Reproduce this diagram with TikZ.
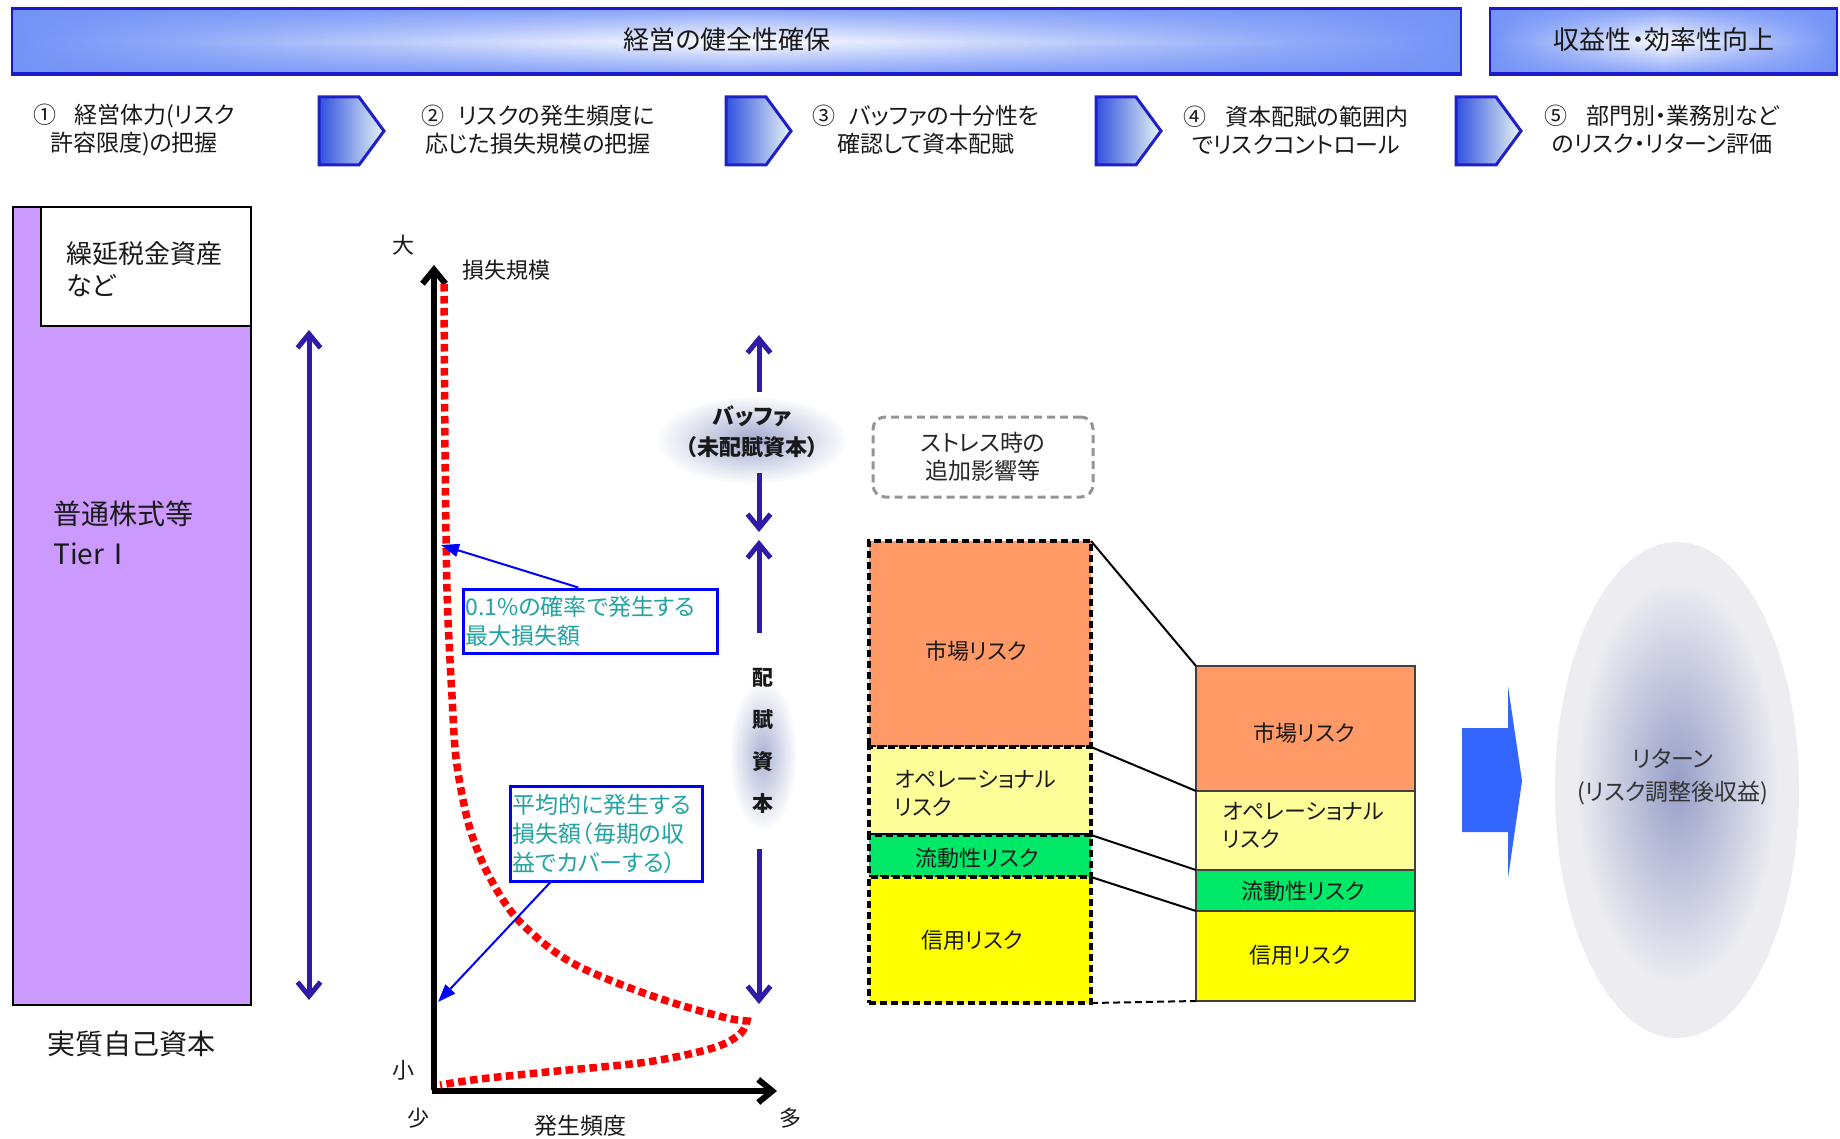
\documentclass[tikz,border=0pt]{standalone}
\usepackage{fontspec}
\setmainfont{Noto Sans CJK JP}[RawFeature={+palt}]
\usetikzlibrary{arrows.meta,fadings}
\definecolor{hdrblue}{HTML}{7393F7}
\definecolor{hdrline}{HTML}{1A1ACC}
\definecolor{chevdark}{HTML}{3050E0}
\definecolor{chevlight}{HTML}{E8F6F4}
\definecolor{chevline}{HTML}{2020C8}
\definecolor{purp}{HTML}{CC99FF}
\definecolor{darrow}{HTML}{2E1CA8}
\definecolor{tealtext}{HTML}{22A3A3}
\definecolor{annblue}{HTML}{0000FF}
\definecolor{mktorange}{HTML}{FF9966}
\definecolor{opyellow}{HTML}{FFFF99}
\definecolor{liqgreen}{HTML}{00E868}
\definecolor{credyellow}{HTML}{FFFF00}
\definecolor{bigarrow}{HTML}{3366FF}
\definecolor{glowc}{HTML}{7E88BC}
\definecolor{retout}{HTML}{ECECF1}
\definecolor{stressgray}{HTML}{959595}
\definecolor{curvered}{HTML}{FF0000}
\tikzfading[name=vmid, top color=transparent!0, bottom color=transparent!0, middle color=transparent!100]
\tikzfading[name=glowfade, inner color=transparent!10, outer color=transparent!100]
\newcommand\setfs[2]{\fontsize{#1}{#2}\selectfont}
\begin{document}
\begin{tikzpicture}[x=0.5pt,y=-0.5pt,
  txt/.style={inner sep=0pt, text=black!90},
  steptext/.style={txt, align=center, font=\setfs{11.5pt}{14pt}},
  hdrtext/.style={txt, font=\setfs{13pt}{15pt}},
  chev/.style={left color=chevdark, right color=chevlight, draw=chevline, line width=1.5pt, line join=miter},
  dblarrow/.style={draw=darrow, line width=2.5pt, {Straight Barb[length=7pt,width=11.5pt]}-{Straight Barb[length=7pt,width=11.5pt]}},
  sglarrow/.style={draw=darrow, line width=2.5pt, -{Straight Barb[length=7pt,width=11.5pt]}},
  axisline/.style={draw=black, line width=3pt, -{Straight Barb[length=7pt,width=11.5pt]}},
  riskcurve/.style={draw=curvered, line width=3.75pt, dash pattern=on 3.75pt off 2.25pt},
  annbox/.style={draw=annblue, line width=1.5pt, text=tealtext, align=left, inner xsep=1pt, inner ysep=0pt, font=\setfs{11.5pt}{14.5pt}},
  annarrow/.style={draw=annblue, line width=1pt, -{Triangle[length=9pt,width=6.5pt]}},
  stackl/.style={draw=black, line width=1.75pt, dash pattern=on 3.5pt off 2pt, minimum width=111pt, inner sep=0pt, outer sep=0pt, anchor=north west},
  stackr/.style={draw=black!75, line width=0.75pt, minimum width=109.5pt, inner sep=0pt, outer sep=0pt, anchor=north west},
  risktext/.style={txt, font=\setfs{11pt}{14pt}, align=left},
  conn/.style={draw=black, line width=1pt},
  axlabel/.style={txt, font=\setfs{11pt}{13pt}},
  glow/.style={fill=glowc, path fading=glowfade},
]
\useasboundingbox (0,0) rectangle (1840,1139);
\fill[white] (0,0) rectangle (1840,1139);

% ---------- header bars ----------
\path[left color=hdrblue, right color=hdrblue, middle color=white] (12,8) rectangle (1461,75);
\fill[hdrblue, path fading=vmid, fill opacity=0.85] (12,8) rectangle (1461,75);
\draw[hdrline, line width=0.75pt] (12,8) rectangle (1461,75);
\draw[hdrline, line width=1.5pt] (12,9) -- (1461,9) (12,74) -- (1461,74);
\node[hdrtext] (h1) at (727,40) {経営の健全性確保};

\path[left color=hdrblue, right color=hdrblue, middle color=white] (1490,8) rectangle (1837,75);
\fill[hdrblue, path fading=vmid, fill opacity=0.85] (1490,8) rectangle (1837,75);
\draw[hdrline, line width=0.75pt] (1490,8) rectangle (1837,75);
\draw[hdrline, line width=1.5pt] (1490,9) -- (1837,9) (1490,74) -- (1837,74);
\node[hdrtext] (h2) at (1664,40) {収益性・効率性向上};

% ---------- steps ----------
\path[chev] (319,97) -- (359,97) -- (384,131) -- (359,165) -- (319,165) -- cycle;
\path[chev] (726,97) -- (766,97) -- (791,131) -- (766,165) -- (726,165) -- cycle;
\path[chev] (1096,97) -- (1136,97) -- (1161,131) -- (1136,165) -- (1096,165) -- cycle;
\path[chev] (1456,97) -- (1496,97) -- (1521,131) -- (1496,165) -- (1456,165) -- cycle;

\node[steptext] (s1) at (134,130) {①\hspace{0.8em}経営体力(リスク\\許容限度)の把握};
\node[steptext] (s2) at (538,130) {②\hspace{0.6em}リスクの発生頻度に\\応じた損失規模の把握};
\node[steptext] (s3) at (926,130) {③\hspace{0.6em}バッファの十分性を\\確認して資本配賦};
\node[steptext] (s4) at (1296,130) {④\hspace{0.8em}資本配賦の範囲内\\でリスクコントロール};
\node[steptext] (s5) at (1662,130) {⑤\hspace{0.8em}部門別・業務別など\\のリスク・リターン評価};

% ---------- capital block ----------
\draw[fill=purp, line width=1.25pt] (13,207) rectangle (251,1005);
\draw[fill=white, line width=1.25pt] (41,207) rectangle (251,326);
\node[txt, anchor=west, align=left, font=\setfs{13pt}{16pt}] (dta) at (66,269) {繰延税金資産\\など};
\node[txt, anchor=west, align=left, font=\setfs{14pt}{20pt}] (tier) at (53,533) {普通株式等\\TierⅠ};
\node[txt, font=\setfs{14pt}{16pt}] (cap) at (131,1044) {実質自己資本};

\coordinate (la1) at (309,330);
\coordinate (la2) at (309,1000);
\draw[dblarrow] (la1) -- (la2);

% ---------- loss distribution graph ----------
\coordinate (org) at (434,1090);
\coordinate (ytop) at (434,265);
\coordinate (xorg) at (432,1091);
\coordinate (xend) at (777,1091);
\draw[axisline] (org) -- (ytop);
\draw[axisline] (xorg) -- (xend);

\draw[riskcurve] plot[smooth, tension=0.55] coordinates {(444,284) (445,450) (447,590) (450,660) (452,696) (455,748) (460,784) (470,829) (487,872) (513,914) (547,946) (580,967) (630,988) (680,1005) (727,1018) (747,1021)}
  -- plot[smooth, tension=0.55] coordinates {(747,1021) (740,1034) (713,1048) (647,1062) (547,1072) (480,1079) (440,1085)};

\node[axlabel] (big) at (403,245) {大};
\node[axlabel, anchor=west] (lossl) at (462,270) {損失規模};
\node[axlabel] (small) at (403,1070) {小};
\node[axlabel] (few) at (418,1118) {少};
\node[axlabel, font=\setfs{11.5pt}{13pt}] (freq) at (580,1126) {発生頻度};
\node[axlabel] (many) at (790,1118) {多};

\node[annbox, text width=125pt, minimum height=32pt] (b1) at (590.5,621) {0.1\%の確率で発生する\\最大損失額};
\node[annbox, text width=94pt, minimum height=47.5pt] (b2) at (606.5,833.5) {平均的に発生する\\損失額（毎期の収\\益でカバーする）};
\coordinate (p999) at (441,545);
\coordinate (pavg) at (438,1002);
\draw[annarrow] (b1.110) -- (p999);
\draw[annarrow] (b2.221) -- (pavg);

% ---------- buffer / allocated capital ----------
\fill[glow, fill opacity=0.8] (752,440) ellipse [x radius=48pt, y radius=22pt];
\fill[glow, fill opacity=0.7] (763,755) ellipse [x radius=17pt, y radius=38pt];
\coordinate (bt) at (759,335);
\coordinate (bb) at (759,392);
\coordinate (bd0) at (759,473);
\coordinate (bd1) at (759,532);
\coordinate (au0) at (759,633);
\coordinate (au1) at (759,540);
\coordinate (ad0) at (759,849);
\coordinate (ad1) at (759,1004);
\draw[sglarrow] (bb) -- (bt);
\draw[sglarrow] (bd0) -- (bd1);
\draw[sglarrow] (au0) -- (au1);
\draw[sglarrow] (ad0) -- (ad1);
\node[txt, align=center, font=\bfseries\setfs{11pt}{15.5pt}] (buf) at (752,432) {バッファ\\（未配賦資本）};
\node[txt, align=center, font=\bfseries\setfs{10.5pt}{21pt}] (alloc) at (763,741) {配\\賦\\資\\本};

\node[draw=stressgray, line width=1.5pt, dash pattern=on 4pt off 2.5pt, rounded corners=6pt, minimum width=110pt, minimum height=40pt, align=center, font=\setfs{11.5pt}{14pt}, text=black!85] (stress) at (983,457) {ストレス時の\\追加影響等};

% ---------- risk stacks ----------
\node[stackl, fill=mktorange, minimum height=103pt] (lm) at (869,541) {};
\node[stackl, fill=opyellow, minimum height=44pt] (lo) at (869,747) {};
\node[stackl, fill=liqgreen, minimum height=21pt] (ll) at (869,835) {};
\node[stackl, fill=credyellow, minimum height=63pt] (lc) at (869,877) {};

\node[stackr, fill=mktorange, minimum height=62.5pt] (rm) at (1196,666) {};
\node[stackr, fill=opyellow, minimum height=39.5pt] (ro) at (1196,791) {};
\node[stackr, fill=liqgreen, minimum height=20.5pt] (rl) at (1196,870) {};
\node[stackr, fill=credyellow, minimum height=45pt] (rc) at (1196,911) {};

\draw[conn] (lm.north east) -- (rm.north west);
\draw[conn] (lo.north east) -- (ro.north west);
\draw[conn] (ll.north east) -- (rl.north west);
\draw[conn] (lc.north east) -- (rc.north west);
\draw[conn, dash pattern=on 3.5pt off 2pt] (lc.south east) -- (rc.south west);

\node[risktext] (lmt) at (976,651) {市場リスク};
\node[risktext, anchor=west] (lot) at (894,793) {オペレーショナル\\リスク};
\node[risktext] (llt) at (977,858) {流動性リスク};
\node[risktext] (lct) at (972,940) {信用リスク};
\node[risktext] (rmt) at (1304,733) {市場リスク};
\node[risktext, anchor=west] (rot) at (1222,825) {オペレーショナル\\リスク};
\node[risktext] (rlt) at (1303,891) {流動性リスク};
\node[risktext] (rct) at (1300,955) {信用リスク};

% ---------- return ----------
\fill[bigarrow] (1462,728) -- (1508,728) -- (1508,686) -- (1522,781) -- (1508,878) -- (1508,832) -- (1462,832) -- cycle;
\fill[retout] (1677,790) ellipse [x radius=61pt, y radius=124pt];
\fill[glow, fill opacity=0.85] (1677,782) ellipse [x radius=50pt, y radius=100pt];
\node[txt, align=center, text=black!80, font=\setfs{11.5pt}{16.5pt}] (ret) at (1673,777) {リターン\\(リスク調整後収益)};
\end{tikzpicture}
\end{document}
